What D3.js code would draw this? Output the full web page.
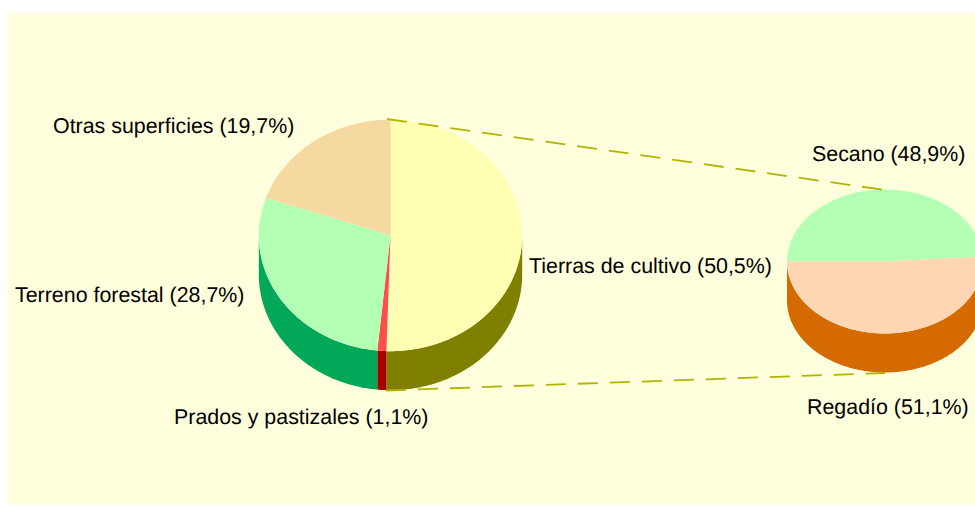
<!DOCTYPE html>
<html>
<head>
<meta charset="utf-8">
<script src="https://cdn.jsdelivr.net/npm/d3@7/dist/d3.min.js"></script>
<style>
    html, body { margin: 0; padding: 0; background: white; }
    svg { display: block; }
    text { font-family: "Liberation Sans", Arial, sans-serif; font-size: 21.4px; fill: #000; text-rendering: geometricPrecision; }
</style>
</head>
<body>
<svg id="chart"></svg>
<script>
// main pie
const mainNames = ["Tierras de cultivo", "Prados y pastizales", "Terreno forestal", "Otras superficies"];
const mainValues = [50.5, 1.1, 28.7, 19.7];
const mainTopColors = ["#ffffb3", "#ff4d4d", "#b3ffb3", "#f5d9a0"];
const mainSideColors = ["#808000", "#a80000", "#00a858", "#b09040"];

// secondary pie
const subNames = ["Secano", "Regadío"];
const subValues = [48.9, 51.1];
const subTopColors = ["#b3ffb3", "#ffd6b3"];
const subSideColors = ["#00a858", "#d46a00"];

let width = 975;
let height = 506;

let svg = d3.select("#chart")
    .attr("width", width)
    .attr("height", height);

svg.append("rect")
    .attr("x", 8)
    .attr("y", 13)
    .attr("width", width - 8)
    .attr("height", height - 14)
    .attr("fill", "#ffffdd");

function drawPie(values, topColors, sideColors, o) {
    let pie = d3.pie().sort(null).startAngle(o.start).endAngle(o.start + 2 * Math.PI);
    let slices = pie(values);

    let g = svg.append("g");

    // side wall, only the front half of the ellipse can be seen
    let area = d3.area()
        .x(a => o.cx + o.rx * Math.sin(a))
        .y0(a => o.cy - o.ry * Math.cos(a))
        .y1(a => o.cy - o.ry * Math.cos(a) + o.depth);

    for (let turn of [0, 2 * Math.PI]) {
        slices.forEach((s, i) => {
            let a0 = Math.max(s.startAngle, Math.PI / 2 + turn);
            let a1 = Math.min(s.endAngle, 3 * Math.PI / 2 + turn);
            if (a1 <= a0) return;
            let steps = d3.range(a0, a1, 0.01).concat([a1]);
            g.append("path")
                .attr("d", area(steps))
                .attr("fill", sideColors[i]);
        });
    }

    // top of the pie: a normal arc squashed to an ellipse
    let arc = d3.arc().innerRadius(0).outerRadius(o.rx);
    let top = g.append("g")
        .attr("transform", `translate(${o.cx},${o.cy}) scale(1,${o.ry / o.rx})`);
    top.selectAll("path")
        .data(slices)
        .enter()
        .append("path")
        .attr("d", arc)
        .attr("fill", (d, i) => topColors[i]);
}

drawPie(mainValues, mainTopColors, mainSideColors,
    { cx: 390.5, cy: 235.5, rx: 131.7, ry: 115.7, depth: 39, start: 0 });

drawPie(subValues, subTopColors, subSideColors,
    { cx: 885, cy: 261.5, rx: 98, ry: 72, depth: 39, start: 3 * Math.PI / 2 });

// dashed lines between the two pies
let leader = d3.line();
svg.selectAll(".leader")
    .data([[[387, 119], [885, 190]], [[386, 390.5], [885, 373]]])
    .enter()
    .append("path")
    .attr("class", "leader")
    .attr("d", leader)
    .attr("fill", "none")
    .attr("stroke", "#b3b300")
    .attr("stroke-width", 1.8)
    .attr("stroke-dasharray", "20 12");

function label(name, value, x, y) {
    svg.append("text")
        .attr("x", x)
        .attr("y", y)
        .text(`${name} (${value.toFixed(1).replace(".", ",")}%)`);
}

label(mainNames[0], mainValues[0], 529, 272.5);
label(mainNames[1], mainValues[1], 174, 424);
label(mainNames[2], mainValues[2], 15, 301.5);
label(mainNames[3], mainValues[3], 53, 132.5);
label(subNames[0], subValues[0], 812, 160.5);
label(subNames[1], subValues[1], 807, 414);
</script>
</body>
</html>
